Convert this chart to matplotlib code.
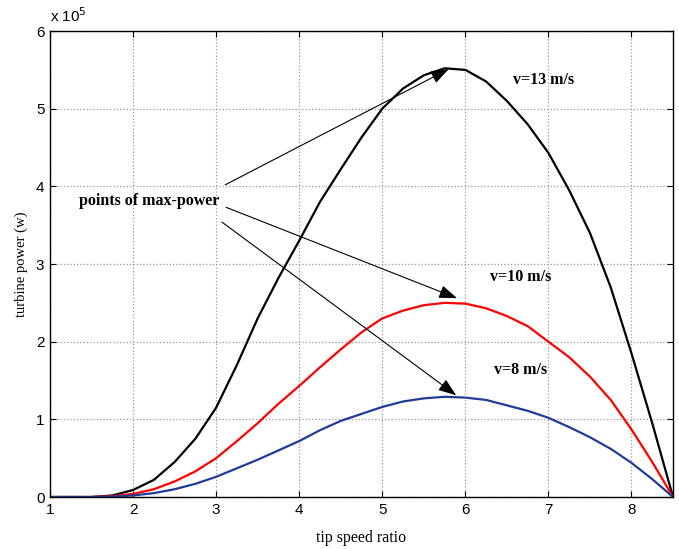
import numpy as np
import matplotlib.pyplot as plt

# tip speed ratio samples
tsr = [1.0, 1.25, 1.5, 1.75, 2.0, 2.25, 2.5, 2.75, 3.0, 3.25, 3.5, 3.75, 4.0,
       4.25, 4.5, 4.75, 5.0, 5.25, 5.5, 5.75, 6.0, 6.25, 6.5, 6.75, 7.0,
       7.25, 7.5, 7.75, 8.0, 8.25, 8.5]

# turbine power in units of 1e5 W
p13 = [0, 0, 0, 0.02, 0.09, 0.22, 0.45, 0.75, 1.15, 1.7, 2.3, 2.82, 3.3,
       3.8, 4.22, 4.63, 5.0, 5.26, 5.43, 5.52, 5.5, 5.35, 5.1, 4.8, 4.43,
       3.95, 3.4, 2.7, 1.85, 0.95, 0]
p10 = [0, 0, 0, 0.01, 0.04, 0.1, 0.2, 0.33, 0.5, 0.72, 0.95, 1.2, 1.43,
       1.67, 1.9, 2.12, 2.3, 2.4, 2.47, 2.5, 2.49, 2.43, 2.33, 2.2, 2.0,
       1.8, 1.55, 1.25, 0.87, 0.45, 0]
p8 = [0, 0, 0, 0.005, 0.02, 0.05, 0.1, 0.17, 0.26, 0.37, 0.48, 0.6, 0.72,
      0.86, 0.98, 1.07, 1.16, 1.23, 1.27, 1.29, 1.28, 1.25, 1.18, 1.11, 1.02,
      0.9, 0.77, 0.62, 0.44, 0.23, 0]

serif = ['Liberation Serif', 'DejaVu Serif']
sans = ['Liberation Sans', 'DejaVu Sans']

fig = plt.figure(figsize=(6.79, 5.49), dpi=100)
ax = fig.add_axes([0.0736, 0.0947, 0.9176, 0.8488])

ax.plot(tsr, p13, color='black', lw=1.6)
ax.plot(tsr, p10, color='#ff0000', lw=1.6)
ax.plot(tsr, p8, color='#1f3c99', lw=1.6)

ax.set_xlim(1, 8.5)
ax.set_ylim(0, 6)
ax.set_xticks(range(1, 9))
ax.set_yticks(range(0, 7))
ax.grid(True, color='#999999', linestyle=':', linewidth=0.9)
ax.tick_params(direction='in', top=True, right=True, length=4, labelsize=11, pad=4)
for lbl in ax.get_xticklabels() + ax.get_yticklabels():
    lbl.set_family(sans)
for s in ax.spines.values():
    s.set_linewidth(1.0)

ax.set_xlabel('tip speed ratio', family=serif, fontsize=11.5, labelpad=10)
ax.set_ylabel('turbine power (w)', family=serif, fontsize=10.5, labelpad=6)
ax.text(0.0, 1.012, r'x 10$^5$', transform=ax.transAxes, family=sans, fontsize=11,
        ha='left', va='bottom')

# annotations
arrow = dict(arrowstyle='-|>,head_length=1.1,head_width=0.4', color='black',
             lw=0.8, shrinkA=0, shrinkB=0)
ax.annotate('', xy=(5.8, 5.51), xytext=(3.11, 4.02), arrowprops=arrow)
ax.annotate('', xy=(5.9, 2.56), xytext=(3.12, 3.73), arrowprops=arrow)
ax.annotate('', xy=(5.89, 1.31), xytext=(3.07, 3.54), arrowprops=arrow)

bold = dict(family=serif, fontsize=11.5, fontweight='bold', ha='center', va='center')
ax.text(2.2, 3.81, 'points of max-power', **bold)
ax.text(6.94, 5.37, 'v=13 m/s', **bold)
ax.text(6.66, 2.83, 'v=10 m/s', **bold)
ax.text(6.67, 1.63, 'v=8 m/s', **bold)

fig.savefig('out.png', dpi=100)
